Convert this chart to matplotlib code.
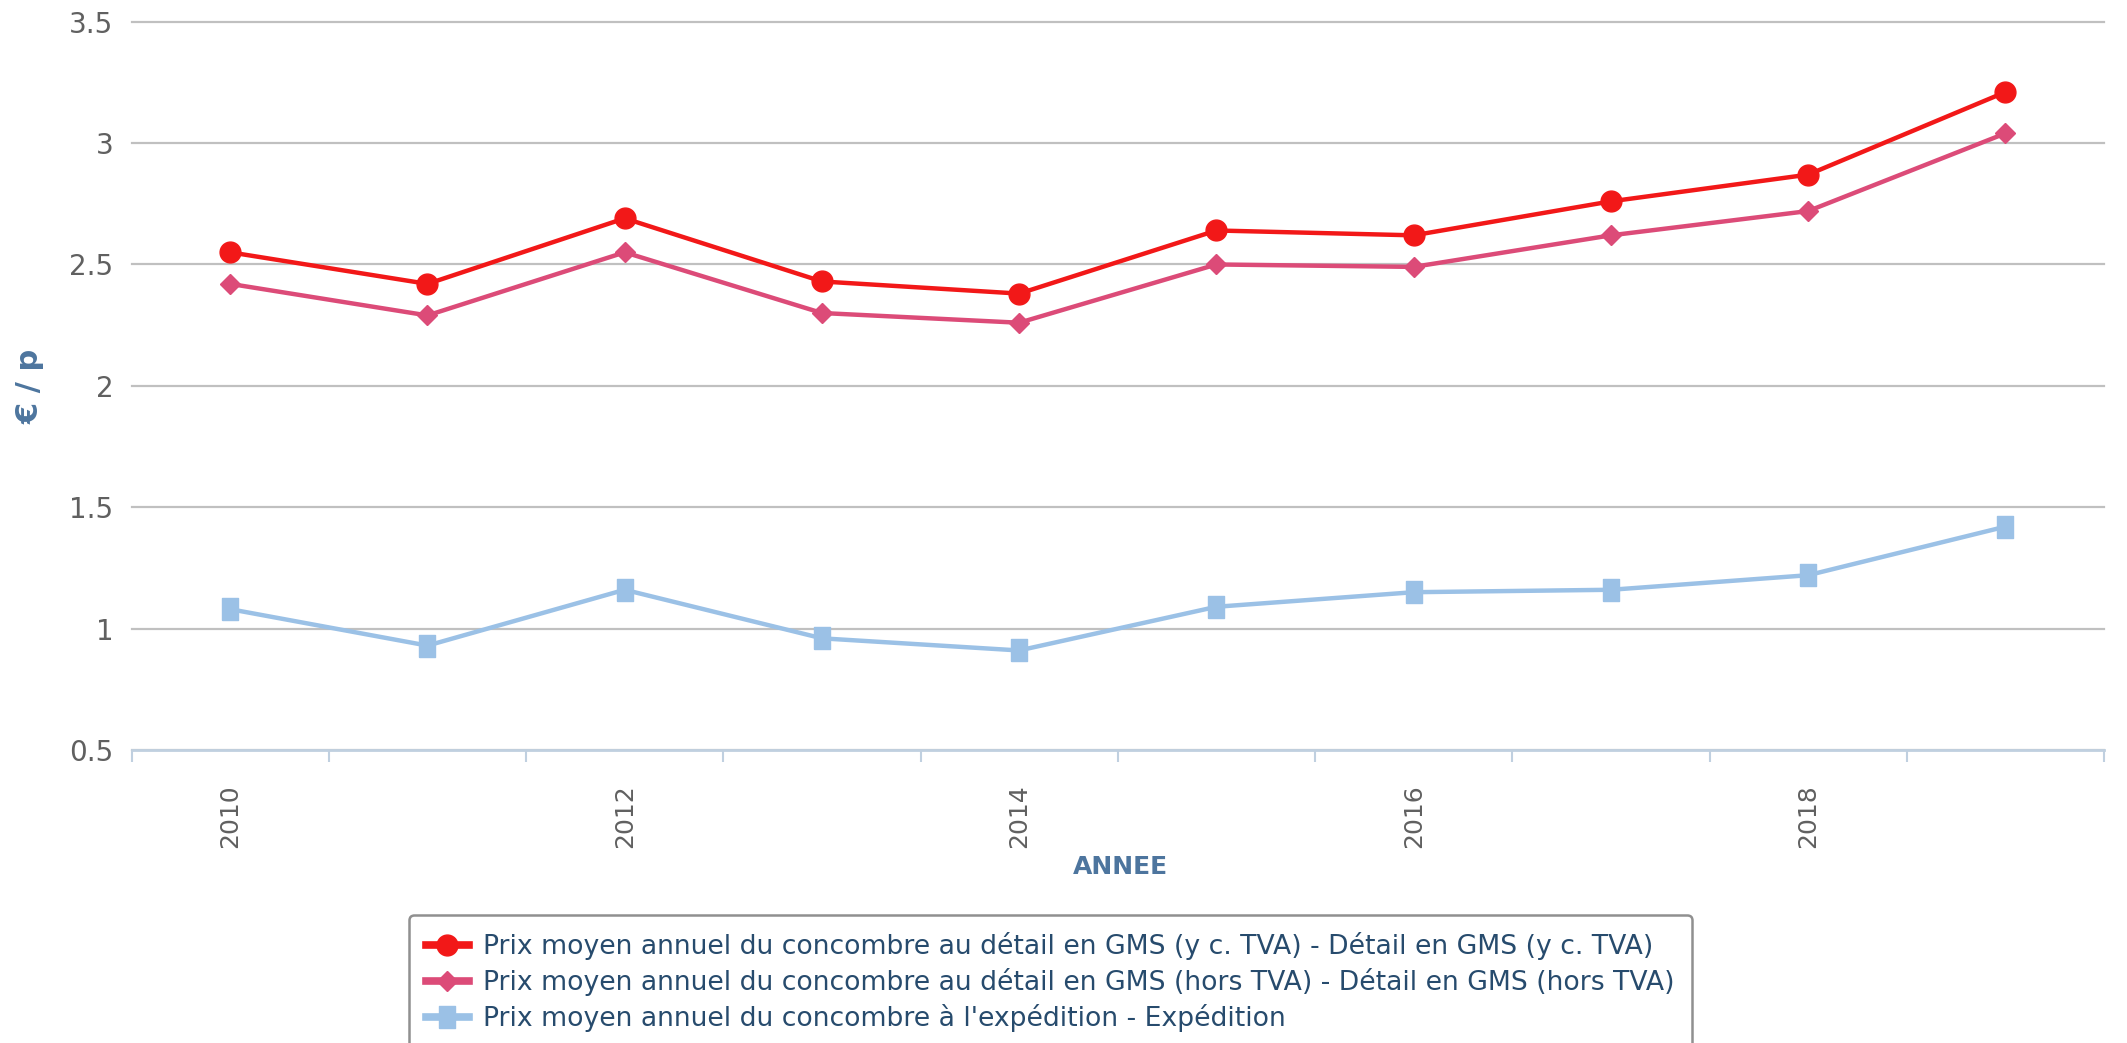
import matplotlib
matplotlib.use("Agg")
import matplotlib.pyplot as plt
from matplotlib.ticker import FixedLocator

years = [2010, 2011, 2012, 2013, 2014, 2015, 2016, 2017, 2018, 2019]
ttc = [2.55, 2.42, 2.69, 2.43, 2.38, 2.64, 2.62, 2.76, 2.87, 3.21]
ht = [2.42, 2.29, 2.55, 2.30, 2.26, 2.50, 2.49, 2.62, 2.72, 3.04]
exped = [1.08, 0.93, 1.16, 0.96, 0.91, 1.09, 1.15, 1.16, 1.22, 1.42]
labels = [
    "Prix moyen annuel du concombre au détail en GMS (y c. TVA) - Détail en GMS (y c. TVA)",
    "Prix moyen annuel du concombre au détail en GMS (hors TVA) - Détail en GMS (hors TVA)",
    "Prix moyen annuel du concombre à l'expédition - Expédition",
]
yticks = [0.5, 1, 1.5, 2, 2.5, 3, 3.5]
ytick_labels = ["0.5", "1", "1.5", "2", "2.5", "3", "3.5"]
xtick_years = [2010, 2012, 2014, 2016, 2018]

W, H = 2127, 1043
fig = plt.figure(figsize=(W / 100, H / 100), dpi=100)
ax = fig.add_axes([131.6 / W, 1 - 750 / H, (2104 - 131.6) / W, (750 - 21.7) / H])

rect = [(-0.37, -0.5), (0.37, -0.5), (0.37, 0.5), (-0.37, 0.5), (-0.37, -0.5)]

ax.plot(years, ttc, color="#f21818", lw=3.2, marker="o", ms=15, label=labels[0], zorder=5)
ax.plot(years, ht, color="#dc4b78", lw=3.2, marker="D", ms=10.5, label=labels[1], zorder=4)
ax.plot(years, exped, color="#9bc1e6", lw=3.2, marker=rect, ms=16.5, label=labels[2], zorder=3)

ax.set_xlim(2009.5, 2019.5)
ax.set_ylim(0.5, 3.5)
ax.set_yticks(yticks)
ax.set_yticklabels(ytick_labels)
ax.grid(axis="y", color="#c0c0c0", lw=1.6)
for gl in ax.get_ygridlines():
    gl.set_clip_on(False)
ax.set_axisbelow(True)

for s in ["top", "right", "left"]:
    ax.spines[s].set_visible(False)
ax.spines["bottom"].set_color("#c0d0e0")
ax.spines["bottom"].set_linewidth(2)
ax.spines["bottom"].set_zorder(2.5)

ax.set_xticks(xtick_years)
ax.set_xticklabels([str(y) for y in xtick_years], rotation=90)
ax.xaxis.set_minor_locator(FixedLocator([y - 0.5 for y in years] + [2019.5]))
ax.tick_params(axis="x", which="major", length=0, pad=25, labelsize=18, labelcolor="#606060")
ax.tick_params(axis="x", which="minor", length=8.5, width=1.5, color="#c0d0e0", direction="out")
ax.tick_params(axis="y", length=0, pad=13, labelsize=20, labelcolor="#606060")

fig.text(1120 / W, 1 - 867 / H, "ANNEE", ha="center", va="center",
         fontsize=18, fontweight="bold", color="#4d759e")
fig.text(30 / W, 1 - 386 / H, "€ / p", ha="center", va="center", rotation=90,
         fontsize=22, fontweight="bold", color="#4d759e")

leg = fig.legend(loc="upper center", bbox_to_anchor=(1050.5 / W, 1 - 915 / H),
                 fontsize=19.2, frameon=True, fancybox=True, handlelength=1.6,
                 labelspacing=0.3, borderpad=0.65, handletextpad=0.55,
                 borderaxespad=0, edgecolor="#909090", framealpha=1)
leg.get_frame().set_linewidth(1.8)
for t in leg.get_texts():
    t.set_color("#274b6d")
for ln in leg.get_lines():
    ln.set_linewidth(5.5)

fig.savefig("out.png", dpi=100)
